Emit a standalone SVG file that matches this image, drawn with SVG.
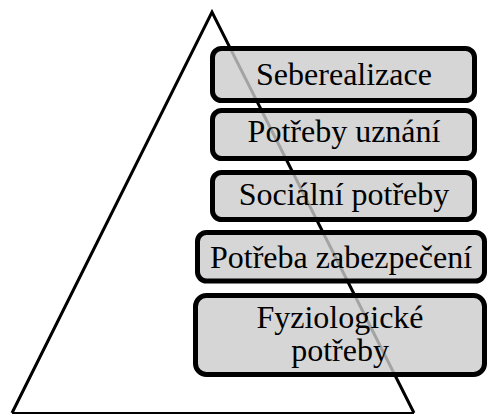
<svg xmlns="http://www.w3.org/2000/svg" width="488" height="417" viewBox="0 0 488 417">
<style>
.box{fill:#cccccc;fill-opacity:0.8;stroke:#000;stroke-width:5}
.lbl{font-family:"Liberation Serif","Times New Roman",serif;font-size:32px;fill:#000;text-anchor:middle}
</style>
<rect width="488" height="417" fill="#fff"/>
<g id="pyramid">
<polyline points="12,413 212,12 414,413" fill="none" stroke="#000" stroke-width="3" stroke-linejoin="miter"/>
<line x1="12" y1="413" x2="414" y2="413" stroke="#000" stroke-width="2"/>
</g>
<g id="connectors"></g>
<g id="n1">
<rect class="box" x="212.5" y="48.5" width="262" height="52" rx="9"/>
<text class="lbl" x="344" y="85">Seberealizace</text>
</g>
<g id="n2">
<rect class="box" x="212.5" y="110.5" width="262" height="48" rx="9"/>
<text class="lbl" x="344" y="142">Potřeby uznání</text>
</g>
<g id="n3">
<rect class="box" x="212.5" y="172.5" width="262" height="47" rx="9"/>
<text class="lbl" x="344" y="205">Sociální potřeby</text>
</g>
<g id="n4">
<rect class="box" x="197.5" y="232.5" width="287" height="48.5" rx="9"/>
<text class="lbl" x="341" y="268">Potřeba zabezpečení</text>
</g>
<g id="n5">
<rect class="box" x="195.5" y="295.5" width="289" height="79" rx="11"/>
<text class="lbl" x="340" y="328" font-size="31">Fyziologické</text>
<text class="lbl" x="340" y="361" font-size="31">potřeby</text>
</g>
</svg>
